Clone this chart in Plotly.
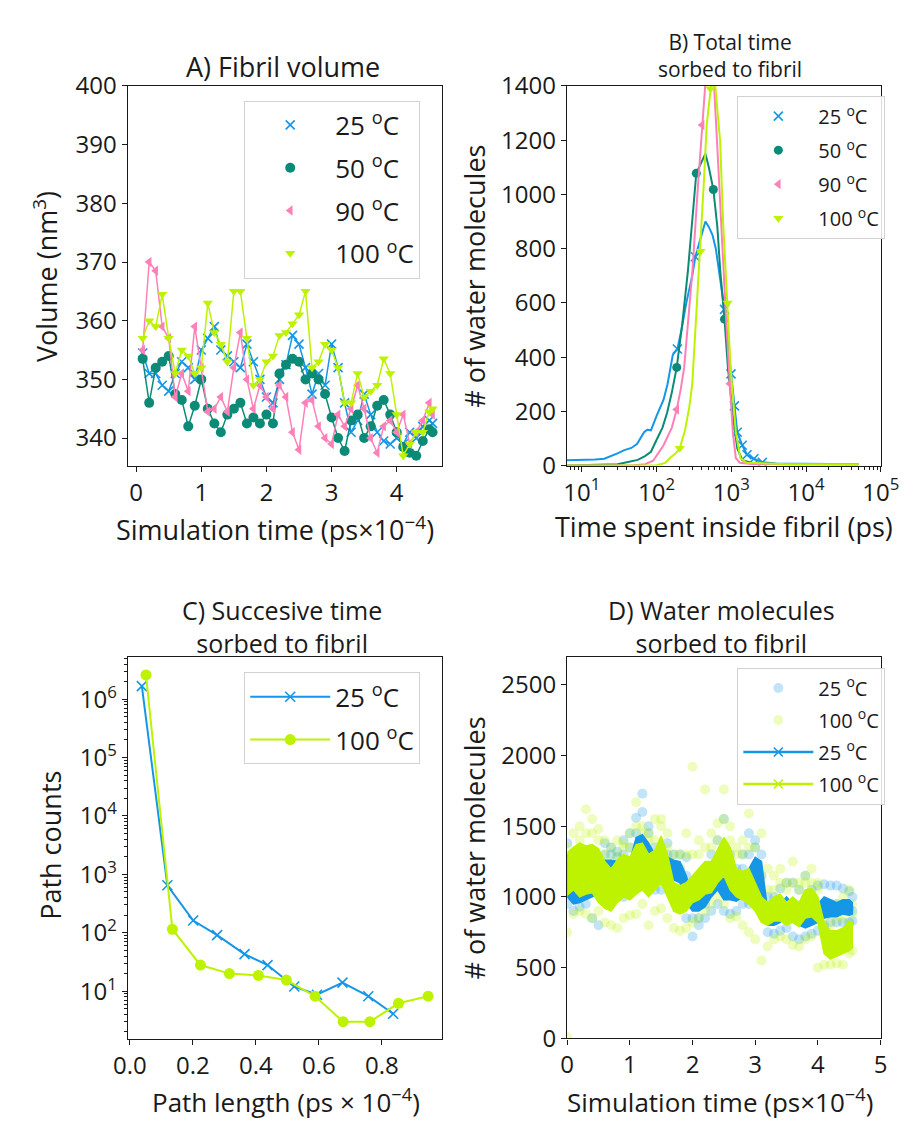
import plotly.graph_objects as go

W, H = 922, 1133
FONT = "Open Sans"
INK = "#1a1a1a"
BLUE = "#1596E6"
TEAL = "#0B8A78"
PINK = "#FF80B8"
LIME = "#BDF200"

# ---------------- Panel A: fibril volume (nm^3) vs simulation time (ps x 1e-4)
T_A = [0.1, 0.2, 0.3, 0.4, 0.5, 0.6, 0.7, 0.8, 0.9, 1.0,
       1.1, 1.2, 1.3, 1.4, 1.5, 1.6, 1.7, 1.8, 1.9, 2.0,
       2.1, 2.2, 2.3, 2.4, 2.5, 2.6, 2.7, 2.8, 2.9, 3.0,
       3.1, 3.2, 3.3, 3.4, 3.5, 3.6, 3.7, 3.8, 3.9, 4.0,
       4.1, 4.2, 4.3, 4.4, 4.5, 4.55]
VOL_25 = [354.5, 351, 351, 349, 348, 351, 353, 352, 350, 355,
          357, 359, 355, 354, 353, 352, 356, 353, 350, 347,
          346, 350, 352.5, 357.5, 356, 352, 347.5, 351, 349, 356,
          352, 346, 341, 343, 347.5, 344, 341, 339.5, 339, 340,
          339, 341, 340, 342, 343, 342.5]
VOL_50 = [353.5, 346, 352, 353, 354, 347.5, 346.5, 342, 345.5, 350,
          345, 342.5, 341, 344, 345, 346, 342.5, 343.5, 342.5, 344,
          342.5, 351, 352.5, 353.5, 353, 350, 351, 350, 347.5, 343.5,
          340, 337.8, 343, 344, 340, 342, 345.5, 346.5, 344, 341,
          338.5, 337.5, 337, 339.5, 341.5, 341]
VOL_90 = [355, 370, 368.5, 359, 357, 347, 351, 348, 359, 352,
          344.5, 345, 347, 344.5, 352, 358, 350, 345, 349, 347,
          345, 349, 347, 341, 338, 346, 346.5, 342, 340, 339,
          344, 342, 345, 349, 345, 340, 337.5, 342, 343, 341,
          344, 339, 341, 343, 346, 344]
VOL_100 = [357, 360, 359, 364.5, 357, 351, 355, 354, 351, 352,
           363, 358, 356, 353, 365, 365, 357, 349, 350, 353,
           354, 357.5, 358, 359.5, 361, 365, 352, 353, 356, 355,
           352, 346, 346, 351, 347, 348, 349, 353.5, 351, 344,
           337, 339, 341, 341, 344.5, 345]

# ---------------- Panel B: number of water molecules vs total time inside fibril (ps)
B_T25 = [6.3, 10, 15, 20, 25, 30, 37, 46, 55, 68, 75, 84, 100, 124, 140, 165, 190, 215, 250, 300,
         330, 400, 450, 500, 560, 620, 700, 810, 900, 990, 1100, 1200, 1400, 1620, 2000, 2600,
         4000, 10000, 50000]
B_V25 = [20, 20, 22, 25, 35, 45, 57, 65, 80, 123, 132, 130, 183, 243, 300, 409, 430, 500, 600, 700,
         770, 850, 900, 880, 850, 800, 700, 576, 450, 338, 220, 123, 75, 40, 25, 12,
         8, 6, 5]
B_MARK25 = [16, 20, 27, 29, 30, 31, 32, 33, 34, 35]
B_T50 = [6.3, 20, 30, 40, 50, 56, 70, 84, 102, 120, 138, 160, 186, 220, 263, 300, 340, 400, 450, 500,
         575, 650, 710, 810, 900, 1050, 1200, 1400, 2000, 5000, 50000]
B_V50 = [0, 2, 5, 12, 18, 21, 35, 51, 100, 140, 194, 270, 362, 520, 720, 900, 1078, 1120, 1150, 1100,
         1018, 880, 720, 540, 362, 183, 64, 20, 8, 5, 5]
B_MARK50 = [12, 16, 20, 23]
B_T90 = [6.3, 50, 70, 90, 124, 160, 186, 210, 234, 260, 302, 355, 407, 447, 500, 575, 660, 741, 851,
         955, 1047, 1148, 1300, 2000, 50000]
B_V90 = [0, 1, 5, 18, 75, 140, 207, 280, 362, 500, 720, 1018, 1256, 1400, 1500, 1450, 1137, 839, 540,
         302, 123, 28, 10, 5, 3]
B_MARK90 = [6, 12, 15, 19]
B_T100 = [6.3, 100, 130, 151, 180, 204, 240, 275, 300, 315, 340, 387, 430, 468, 525, 550, 600, 708,
          776, 891, 977, 1148, 1318, 1600, 5000, 50000]
B_V100 = [0, 1, 10, 28, 45, 64, 130, 218, 300, 400, 560, 790, 1050, 1256, 1390, 1430, 1420, 1197,
          898, 600, 362, 123, 28, 10, 6, 5]
B_MARK100 = [5, 11, 14, 19]

# ---------------- Panel C: path counts vs path length (ps x 1e-4)
C_X25 = [0.038, 0.119, 0.201, 0.277, 0.364, 0.437, 0.522, 0.594, 0.675, 0.757, 0.836]
C_Y25 = [1.67e6, 650, 162, 91, 43, 28, 12, 8.7, 14, 8.2, 4.1]
C_X100 = [0.051, 0.135, 0.224, 0.316, 0.408, 0.497, 0.588, 0.677, 0.762, 0.853, 0.947]
C_Y100 = [2.6e6, 115, 28, 20, 18.6, 15.5, 8.2, 3.0, 3.0, 6.2, 8.2]

# ---------------- Panel D: water molecules sorbed vs simulation time (ps x 1e-4)
T_D = [0.0, 0.1, 0.2, 0.3, 0.4, 0.5, 0.6, 0.7, 0.8, 0.9,
       1.0, 1.1, 1.2, 1.3, 1.4, 1.5, 1.6, 1.7, 1.8, 1.9,
       2.0, 2.1, 2.2, 2.3, 2.4, 2.5, 2.6, 2.7, 2.8, 2.9,
       3.0, 3.1, 3.2, 3.3, 3.4, 3.5, 3.6, 3.7, 3.8, 3.9,
       4.0, 4.1, 4.2, 4.3, 4.4, 4.5, 4.55]
D25_PTS_HI = [1380, 1300, 1250, 1280, 1300, 1260, 1380, 1350, 1320, 1400,
              1450, 1560, 1730, 1500, 1350, 1320, 1380, 1300, 1300, 1280,
              1100, 1080, 1200, 1300, 1400, 1550, 1300, 1200, 1300, 1450,
              1400, 1300, 1000, 1000, 1060, 1100, 1100, 1050, 1150, 1050,
              1080, 1090, 1080, 1080, 1060, 1040, 1000]
D25_PTS_MID = [1200, 1100, 1050, 1100, 1100, 1150, 1300, 1300, 1280, 1300,
               1350, 1450, 1600, 1450, 1250, 1200, 1300, 1200, 1200, 1150,
               850, 850, 950, 1050, 1100, 1350, 1200, 1100, 1200, 1300,
               1350, 1150, 850, 850, 900, 950, 900, 850, 850, 880,
               900, 950, 950, 950, 950, 920, 900]
D25_PTS_LO = [950, 900, 930, 950, 850, 800, 1000, 1050, 1000, 1000,
              1020, 1100, 1150, 1100, 1050, 1050, 1080, 1000, 950, 850,
              720, 800, 850, 900, 950, 900, 880, 900, 950, 950,
              1000, 950, 750, 740, 760, 780, 720, 700, 720, 740,
              760, 800, 820, 820, 820, 820, 830]
D100_PTS_HI = [1350, 1450, 1500, 1620, 1550, 1480, 1400, 1350, 1400, 1380,
               1450, 1670, 1500, 1450, 1550, 1550, 1450, 1300, 1300, 1450,
               1920, 1400, 1760, 1450, 1520, 1760, 1500, 1350, 1400, 1590,
               1350, 1450, 1200, 1150, 1200, 1100, 1250, 1100, 1150, 1200,
               1100, 950, 900, 950, 1000, 1050, 950]
D100_PTS_MID = [1200, 1300, 1400, 1450, 1450, 1400, 1300, 1250, 1300, 1350,
                1350, 1500, 1450, 1400, 1400, 1500, 1350, 1200, 1200, 1300,
                1300, 1300, 1350, 1350, 1400, 1550, 1400, 1300, 1300, 1350,
                1200, 1150, 1050, 1050, 1100, 1050, 1100, 1050, 1100, 1100,
                1050, 850, 800, 850, 850, 900, 880]
D100_PTS_LO = [750, 880, 900, 880, 850, 900, 820, 800, 780, 850,
               870, 880, 950, 800, 900, 920, 850, 780, 760, 780,
               820, 850, 900, 950, 1000, 950, 850, 860, 800, 750,
               700, 550, 650, 700, 720, 700, 660, 650, 700, 720,
               500, 520, 520, 530, 520, 600, 620]
D100_EXTRA_T = [0.0]
D100_EXTRA_V = [10]
D25_LINE_HI = [1300, 1200, 1150, 1150, 1180, 1200, 1260, 1260, 1250, 1230,
               1250, 1420, 1440, 1380, 1300, 1280, 1280, 1260, 1250, 1150,
               1000, 1000, 1050, 1150, 1200, 1150, 1100, 1050, 1150, 1200,
               1280, 1250, 900, 880, 950, 1000, 950, 900, 900, 950,
               950, 1000, 980, 960, 980, 980, 960]
D25_LINE_LO = [1000, 950, 960, 980, 1000, 1020, 1100, 1120, 1100, 1080,
               1100, 1200, 1250, 1200, 1150, 1100, 1150, 1120, 1100, 960,
               900, 900, 930, 1000, 1050, 980, 980, 970, 1000, 1050,
               1000, 950, 800, 800, 820, 880, 850, 800, 780, 800,
               820, 850, 860, 860, 880, 870, 880]
D100_LINE_HI = [1310, 1350, 1380, 1360, 1370, 1340, 1250, 1200, 1260, 1300,
                1280, 1370, 1380, 1300, 1330, 1430, 1300, 1100, 1080, 1100,
                1150, 1200, 1250, 1250, 1330, 1420, 1350, 1200, 1180, 1200,
                1100, 1000, 960, 1000, 1020, 960, 1000, 960, 1050, 1060,
                1000, 820, 760, 760, 780, 830, 820]
D100_LINE_LO = [1013, 1050, 1000, 1020, 1030, 960, 920, 900, 960, 1000,
                980, 1020, 1050, 1000, 1050, 1100, 1000, 900, 880, 900,
                960, 980, 1020, 1030, 1100, 1150, 1050, 1000, 980, 950,
                900, 820, 800, 830, 830, 800, 820, 790, 850, 860,
                820, 600, 560, 580, 600, 620, 640]

LBL25 = "25 <sup>o</sup>C"
LBL50 = "50 <sup>o</sup>C"
LBL90 = "90 <sup>o</sup>C"
LBL100 = "100 <sup>o</sup>C"


def rgba(hexc, a):
    h = hexc.lstrip("#")
    return "rgba(%d,%d,%d,%.2f)" % (int(h[0:2], 16), int(h[2:4], 16), int(h[4:6], 16), a)


def mk(symbol, color, size):
    if symbol.startswith("x"):
        return dict(symbol="x-thin", size=size, color=color, line=dict(color=color, width=1.6))
    return dict(symbol=symbol, size=size, color=color, line=dict(width=0))


fig = go.Figure()

# ---- Panel A
for vals, col, sym, name in [(VOL_25, BLUE, "x", LBL25), (VOL_50, TEAL, "circle", LBL50),
                             (VOL_90, PINK, "triangle-left", LBL90), (VOL_100, LIME, "triangle-down", LBL100)]:
    fig.add_trace(go.Scatter(x=T_A, y=vals, mode="lines", line=dict(color=col, width=1.5),
                             showlegend=False, hoverinfo="skip", xaxis="x", yaxis="y"))
    fig.add_trace(go.Scatter(x=T_A, y=vals, mode="markers", marker=mk(sym, col, 9 if sym != "circle" else 10),
                             name=name, legend="legend", legendgroup="A" + name, xaxis="x", yaxis="y"))

# ---- Panel B
for tt, vv, idx, col, sym, name in [(B_T25, B_V25, B_MARK25, BLUE, "x", LBL25),
                                    (B_T50, B_V50, B_MARK50, TEAL, "circle", LBL50),
                                    (B_T90, B_V90, B_MARK90, PINK, "triangle-left", LBL90),
                                    (B_T100, B_V100, B_MARK100, LIME, "triangle-down", LBL100)]:
    fig.add_trace(go.Scatter(x=tt, y=vv, mode="lines", line=dict(color=col, width=2),
                             showlegend=False, hoverinfo="skip", xaxis="x2", yaxis="y2"))
    fig.add_trace(go.Scatter(x=[tt[i] for i in idx], y=[vv[i] for i in idx], mode="markers",
                             marker=mk(sym, col, 9), name=name, legend="legend2",
                             legendgroup="B" + name, xaxis="x2", yaxis="y2"))

# ---- Panel C
fig.add_trace(go.Scatter(x=C_X25, y=C_Y25, mode="lines+markers", line=dict(color=BLUE, width=2),
                         marker=mk("x", BLUE, 10), name=LBL25, legend="legend3", legendgroup="C25",
                         xaxis="x3", yaxis="y3"))
fig.add_trace(go.Scatter(x=C_X100, y=C_Y100, mode="lines+markers", line=dict(color=LIME, width=2),
                         marker=mk("circle", LIME, 11), name=LBL100, legend="legend3", legendgroup="C100",
                         xaxis="x3", yaxis="y3"))

# ---- Panel D scatter (raw samples)
fig.add_trace(go.Scatter(x=T_D + T_D + T_D, y=D25_PTS_HI + D25_PTS_MID + D25_PTS_LO, mode="markers",
                         marker=dict(symbol="circle", size=10, color=rgba(BLUE, 0.26), line=dict(width=0)),
                         name=LBL25, legend="legend4", legendgroup="D1", xaxis="x4", yaxis="y4"))
fig.add_trace(go.Scatter(x=T_D + T_D + T_D + D100_EXTRA_T,
                         y=D100_PTS_HI + D100_PTS_MID + D100_PTS_LO + D100_EXTRA_V,
                         mode="markers",
                         marker=dict(symbol="circle", size=10, color=rgba(LIME, 0.26), line=dict(width=0)),
                         name=LBL100, legend="legend4", legendgroup="D2", xaxis="x4", yaxis="y4"))
# ---- Panel D dense running lines drawn as bands between their envelope values
for hi, lo, col in [(D25_LINE_HI, D25_LINE_LO, BLUE), (D100_LINE_HI, D100_LINE_LO, LIME)]:
    fig.add_trace(go.Scatter(x=T_D + T_D[::-1], y=hi + lo[::-1], mode="lines", fill="toself",
                             fillcolor=col, line=dict(color=col, width=1.5),
                             showlegend=False, hoverinfo="skip", xaxis="x4", yaxis="y4"))
for col, name, grp in [(BLUE, LBL25, "D3"), (LIME, LBL100, "D4")]:
    fig.add_trace(go.Scatter(x=[None], y=[None], mode="lines+markers", line=dict(color=col, width=2.5),
                             marker=mk("x", col, 9), name=name, legend="legend4", legendgroup=grp,
                             xaxis="x4", yaxis="y4"))


def xd(a, b):
    return [a / W, b / W]


def yd(top, bottom):
    return [1 - bottom / H, 1 - top / H]


def axis(domain, anchor, **kw):
    d = dict(domain=domain, anchor=anchor, showline=True, mirror=True, linecolor=INK, linewidth=1.3,
             ticks="outside", ticklen=5, tickwidth=1.2, tickcolor=INK, showgrid=False, zeroline=False,
             tickfont=dict(family=FONT, size=24, color=INK))
    d.update(kw)
    return d


minor_B = [k * 10 ** e for e in range(0, 5) for k in range(2, 10)]
minor_C = [k * 10 ** e for e in range(0, 7) for k in range(2, 10)]
minor_style = dict(ticks="outside", ticklen=3, tickwidth=1, tickcolor=INK, showgrid=False)


def legend(x, y, size, gap, iw):
    return dict(x=x / W, y=1 - y / H, xanchor="left", yanchor="top", bgcolor="rgba(255,255,255,0.85)",
                bordercolor="#d2d2d2", borderwidth=1, font=dict(family=FONT, size=size, color=INK),
                tracegroupgap=gap, itemwidth=iw)


def ann(text, x, y, size, angle=0):
    return dict(text=text, x=x / W, y=1 - y / H, xref="paper", yref="paper", showarrow=False,
                xanchor="center", yanchor="middle", textangle=angle,
                font=dict(family=FONT, size=size, color=INK))


fig.update_layout(
    width=W, height=H, margin=dict(l=0, r=0, t=0, b=0),
    paper_bgcolor="white", plot_bgcolor="white",
    font=dict(family=FONT, color=INK),
    xaxis=axis(xd(117, 443), "y", range=[-0.13, 4.69], tickvals=[0, 1, 2, 3, 4]),
    yaxis=axis(yd(70, 461.7), "x", range=[335.2, 400], tickvals=[340, 350, 360, 370, 380, 390, 400]),
    xaxis2=axis(xd(573, 899), "y2", type="log", range=[0.8, 5.0],
                tickvals=[10, 100, 1000, 10000, 100000],
                ticktext=["10<sup>1</sup>", "10<sup>2</sup>", "10<sup>3</sup>", "10<sup>4</sup>", "10<sup>5</sup>"],
                minor=dict(tickvals=minor_B, **minor_style)),
    yaxis2=axis(yd(70, 461), "x2", range=[0, 1400], tickvals=[0, 200, 400, 600, 800, 1000, 1200, 1400]),
    xaxis3=axis(xd(117, 443), "y3", range=[-0.007, 0.99], tickvals=[0, 0.2, 0.4, 0.6, 0.8],
                ticktext=["0.0", "0.2", "0.4", "0.6", "0.8"]),
    yaxis3=axis(yd(658.3, 1051.7), "x3", type="log", range=[0.18, 6.72],
                tickvals=[10, 100, 1000, 1e4, 1e5, 1e6],
                ticktext=["10<sup>1</sup>", "10<sup>2</sup>", "10<sup>3</sup>", "10<sup>4</sup>",
                          "10<sup>5</sup>", "10<sup>6</sup>"],
                minor=dict(tickvals=minor_C, **minor_style)),
    xaxis4=axis(xd(573.3, 898.7), "y4", range=[0, 5], tickvals=[0, 1, 2, 3, 4, 5]),
    yaxis4=axis(yd(658.3, 1051), "x4", range=[0, 2695], tickvals=[0, 500, 1000, 1500, 2000, 2500]),
    legend=legend(238, 85, 26, 6, 80),
    legend2=legend(750, 80, 20, 5, 70),
    legend3=legend(238, 674, 26, 6, 80),
    legend4=legend(750, 669, 20, 3, 70),
    annotations=[
        ann("A) Fibril volume", 278, 50, 27),
        ann("B) Total time<br>sorbed to fibril", 742, 39, 21),
        ann("C) Succesive time<br>sorbed to fibril", 277, 627, 25),
        ann("D) Water molecules<br>sorbed to fibril", 734, 627, 25),
        ann("Volume (nm<sup>3</sup>)", 31, 266, 27, -90),
        ann("# of water molecules", 477, 266, 27, -90),
        ann("Path counts", 37, 852, 27, -90),
        ann("# of water molecules", 477, 855, 27, -90),
        ann("Simulation time (ps\u00d710<sup>\u22124</sup>)", 270, 526, 27),
        ann("Time spent inside fibril (ps)", 736, 524, 27),
        ann("Path length (ps \u00d7 10<sup>\u22124</sup>)", 281, 1115, 26),
        ann("Simulation time (ps\u00d710<sup>\u22124</sup>)", 732, 1115, 26),
    ],
)

fig.write_html("out.html", post_script="document.body.style.margin='0';")
